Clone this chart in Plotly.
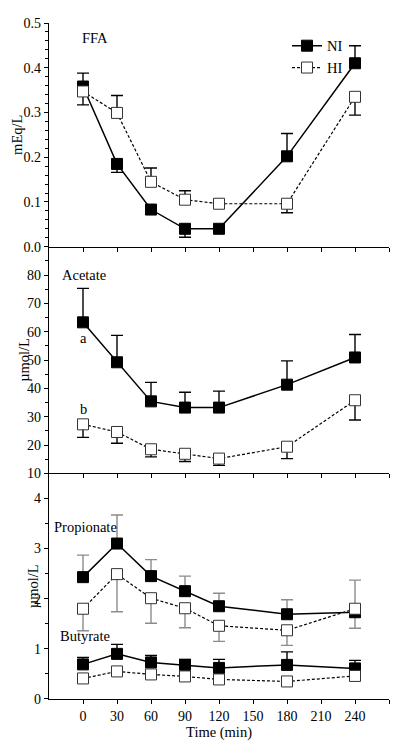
import plotly.graph_objects as go

time = [0, 30, 60, 90, 120, 180, 240]
x_ticks = [0, 30, 60, 90, 120, 150, 180, 210, 240, 270]
x_labels = ["0", "30", "60", "90", "120", "150", "180", "210", "240", ""]

ffa_ni = [0.358, 0.185, 0.083, 0.040, 0.040, 0.202, 0.410]
ffa_ni_up = [0.030, 0, 0, 0, 0, 0.051, 0.039]
ffa_ni_dn = [0, 0.019, 0, 0.019, 0, 0, 0]
ffa_hi = [0.347, 0.299, 0.145, 0.105, 0.096, 0.096, 0.335]
ffa_hi_up = [0, 0.039, 0.031, 0.020, 0, 0, 0]
ffa_hi_dn = [0.030, 0, 0, 0, 0, 0.020, 0.041]

ace_ni = [63.3, 49.2, 35.4, 33.2, 33.2, 41.3, 50.9]
ace_ni_up = [12.0, 9.5, 6.7, 5.4, 5.8, 8.4, 8.1]
ace_hi = [27.3, 24.6, 18.5, 16.9, 15.2, 19.4, 35.8]
ace_hi_dn = [4.6, 4.0, 2.7, 2.7, 2.4, 4.2, 7.0]

pro_ni = [2.43, 3.10, 2.45, 2.15, 1.85, 1.69, 1.73]
pro_ni_up = [0.44, 0.57, 0.33, 0.30, 0.26, 0.29, 0]
pro_ni_dn = [0, 0, 0, 0, 0, 0, 0.32]
pro_hi = [1.80, 2.49, 2.01, 1.81, 1.46, 1.37, 1.80]
pro_hi_up = [0, 0, 0, 0, 0, 0, 0.57]
pro_hi_dn = [0.44, 0.75, 0.50, 0.39, 0.31, 0.30, 0]

but_ni = [0.69, 0.90, 0.73, 0.68, 0.62, 0.68, 0.61]
but_ni_up = [0.14, 0.19, 0.14, 0.11, 0.17, 0.26, 0.16]
but_hi = [0.41, 0.55, 0.49, 0.45, 0.39, 0.35, 0.46]

FONT = "Liberation Serif, Times New Roman, serif"
zeros = [0] * len(time)

fig = go.Figure()


def add_pair(ni, ni_up, ni_dn, hi, hi_up, hi_dn, xa, ya, ecolor, legend):
    fig.add_trace(go.Scatter(
        x=time, y=ni, name="NI", mode="lines+markers", xaxis=xa, yaxis=ya,
        line=dict(color="black", width=1.5),
        marker=dict(symbol="square", size=11, color="black", line=dict(color="black", width=1)),
        error_y=dict(type="data", symmetric=False, array=ni_up, arrayminus=ni_dn,
                     color=ecolor, thickness=1.4, width=6),
        showlegend=legend))
    fig.add_trace(go.Scatter(
        x=time, y=hi, name="HI", mode="lines+markers", xaxis=xa, yaxis=ya,
        line=dict(color="black", width=1.2, dash="3px,2px"),
        marker=dict(symbol="square", size=11, color="white", line=dict(color="#333333", width=1)),
        error_y=dict(type="data", symmetric=False, array=hi_up, arrayminus=hi_dn,
                     color=ecolor, thickness=1.4, width=6),
        showlegend=legend))


add_pair(ffa_ni, ffa_ni_up, ffa_ni_dn, ffa_hi, ffa_hi_up, ffa_hi_dn, "x", "y", "black", True)
add_pair(ace_ni, ace_ni_up, zeros, ace_hi, zeros, ace_hi_dn, "x2", "y2", "black", False)
add_pair(pro_ni, pro_ni_up, pro_ni_dn, pro_hi, pro_hi_up, pro_hi_dn, "x3", "y3", "#8c8c8c", False)
add_pair(but_ni, but_ni_up, zeros, but_hi, zeros, zeros, "x3", "y3", "black", False)

H = 683.0
d3 = [0, 228 / H]
d2 = [228 / H, 457 / H]
d1 = [457 / H, 1]

axis_common = dict(showline=True, linecolor="black", linewidth=1.2, ticks="outside",
                   ticklen=4, tickwidth=1.2, tickcolor="black", showgrid=False, zeroline=False,
                   tickfont=dict(family=FONT, size=14, color="black"))

xcommon = dict(axis_common, range=[-30, 270], tickmode="array", tickvals=x_ticks, ticktext=x_labels)

fig.update_layout(
    width=392, height=740,
    margin=dict(l=41, r=11, t=8, b=49),
    paper_bgcolor="white", plot_bgcolor="white",
    font=dict(family=FONT, size=14, color="black"),
    xaxis=dict(xcommon, anchor="y", showticklabels=False),
    xaxis2=dict(xcommon, anchor="y2", matches="x", showticklabels=False),
    xaxis3=dict(xcommon, anchor="y3", matches="x",
                title=dict(text="Time (min)", font=dict(family=FONT, size=14.5), standoff=3)),
    yaxis=dict(axis_common, domain=d1, anchor="x", range=[0, 0.5], tickmode="array",
               tickvals=[0, 0.1, 0.2, 0.3, 0.4, 0.5], ticktext=["0.0", "0.1", "0.2", "0.3", "0.4", "0.5"],
               minor=dict(dtick=0.02, tick0=0, ticks="outside", ticklen=2.5, tickcolor="black", tickwidth=1)),
    yaxis2=dict(axis_common, domain=d2, anchor="x2", range=[10, 90], tickmode="array",
                tickvals=[10, 20, 30, 40, 50, 60, 70, 80],
                minor=dict(dtick=5, tick0=10, ticks="outside", ticklen=2.5, tickcolor="black", tickwidth=1)),
    yaxis3=dict(axis_common, domain=d3, anchor="x3", range=[0, 4.5], tickmode="array",
                tickvals=[0, 1, 2, 3, 4],
                minor=dict(dtick=0.5, tick0=0, ticks="outside", ticklen=2.5, tickcolor="black", tickwidth=1)),
    legend=dict(x=0.70, y=0.99, xanchor="left", yanchor="top", bgcolor="rgba(0,0,0,0)",
                font=dict(family=FONT, size=14.5, color="black"), itemwidth=30, tracegroupgap=0),
)

ann_font = dict(family=FONT, size=14.5, color="black")
annotations = [
    dict(text="FFA", x=0, y=0.466, xref="x", yref="y", xanchor="left", showarrow=False, font=ann_font, xshift=-3),
    dict(text="Acetate", x=-20, y=80, xref="x", yref="y2", xanchor="left", showarrow=False, font=ann_font),
    dict(text="a", x=0, y=57.9, xref="x", yref="y2", showarrow=False, font=ann_font),
    dict(text="b", x=0, y=32.6, xref="x", yref="y2", showarrow=False, font=ann_font),
    dict(text="Propionate", x=-27, y=3.42, xref="x", yref="y3", xanchor="left", showarrow=False, font=ann_font),
    dict(text="Butyrate", x=-22, y=1.25, xref="x", yref="y3", xanchor="left", showarrow=False, font=ann_font),
    dict(text="mEq/L", x=-0.094, y=(d1[0] + d1[1]) / 2, xref="paper", yref="paper", textangle=-90,
         xanchor="center", yanchor="middle", showarrow=False, font=ann_font),
    dict(text="µmol/L", x=-0.074, y=(d2[0] + d2[1]) / 2, xref="paper", yref="paper", textangle=-90,
         xanchor="center", yanchor="middle", showarrow=False, font=ann_font),
    dict(text="µmol/L", x=-0.047, y=(d3[0] + d3[1]) / 2, xref="paper", yref="paper", textangle=-90,
         xanchor="center", yanchor="middle", showarrow=False, font=ann_font),
]
fig.update_layout(annotations=annotations)

fig.write_html("out.html")
